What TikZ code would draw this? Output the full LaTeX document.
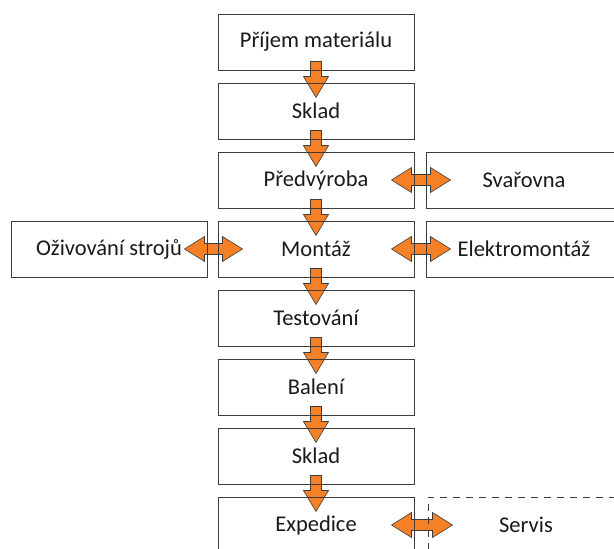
\documentclass[tikz,border=0pt]{standalone}
\usepackage{fontspec}
\setmainfont{Carlito}
\usetikzlibrary{calc,positioning,backgrounds}

\definecolor{flowOrange}{RGB}{246,128,38}
\definecolor{boxLine}{RGB}{60,60,60}

% block arrow down from one box into the next
\newcommand{\flowdown}[2]{%
  \filldraw[blockarrow] ($(#1.south)+(-5.5pt,9pt)$) -- ($(#1.south)+(-5.5pt,-6pt)$)
    -- ($(#1.south)+(-12.5pt,-6pt)$) -- ($(#2.north)+(0,-15pt)$)
    -- ($(#1.south)+(12.5pt,-6pt)$) -- ($(#1.south)+(5.5pt,-6pt)$)
    -- ($(#1.south)+(5.5pt,9pt)$) -- cycle;}
% block arrow both ways between two boxes side by side
\newcommand{\flowboth}[2]{%
  \filldraw[blockarrow] ($(#1.east)+(-23pt,0)$) -- ($(#1.east)+(-3pt,12.5pt)$)
    -- ($(#1.east)+(-3pt,5.5pt)$) -- ($(#2.west)+(5pt,5.5pt)$)
    -- ($(#2.west)+(5pt,12.5pt)$) -- ($(#2.west)+(25pt,0)$)
    -- ($(#2.west)+(5pt,-12.5pt)$) -- ($(#2.west)+(5pt,-5.5pt)$)
    -- ($(#1.east)+(-3pt,-5.5pt)$) -- ($(#1.east)+(-3pt,-12.5pt)$) -- cycle;}

\begin{document}
\begin{tikzpicture}[
    stepbox/.style={draw=boxLine, line width=1pt, minimum width=196pt, minimum height=56pt,
      inner sep=0pt, text=black!90, font=\fontsize{22.5}{26}\selectfont},
    blockarrow/.style={fill=flowOrange, draw=boxLine, line width=0.6pt, line join=miter}
  ]
  \useasboundingbox (0,0) rectangle (614pt,-549pt);
  % Main flow
  \node[stepbox] (prijem) at (316pt,-42pt) {Příjem materiálu};
  \node[stepbox, below=12pt of prijem] (sklad) {Sklad};
  \node[stepbox, below=12pt of sklad] (predvyroba) {Předvýroba};
  \node[stepbox, below=12pt of predvyroba] (montaz) {Montáž};
  \node[stepbox, below=12pt of montaz] (testovani) {Testování};
  \node[stepbox, below=12pt of testovani] (baleni) {Balení};
  \node[stepbox, below=12pt of baleni] (skladb) {Sklad};
  \node[stepbox, below=12pt of skladb] (expedice) {Expedice};
  % Side boxes
  \node[stepbox, left=10pt of montaz] (ozivovani) {Oživování strojů};
  \node[stepbox, right=11pt of predvyroba] (svarovna) {Svařovna};
  \node[stepbox, right=11pt of montaz] (elektro) {Elektromontáž};
  \node[stepbox, dashed, dash pattern=on 7pt off 6pt, right=13pt of expedice] (servis) {Servis};
  % Arrows behind the box lines
  \begin{scope}[on background layer]
    \flowdown{prijem}{sklad}
    \flowdown{sklad}{predvyroba}
    \flowdown{predvyroba}{montaz}
    \flowdown{montaz}{testovani}
    \flowdown{testovani}{baleni}
    \flowdown{baleni}{skladb}
    \flowdown{skladb}{expedice}
    \flowboth{predvyroba}{svarovna}
    \flowboth{ozivovani}{montaz}
    \flowboth{montaz}{elektro}
    \flowboth{expedice}{servis}
  \end{scope}
\end{tikzpicture}
\end{document}
